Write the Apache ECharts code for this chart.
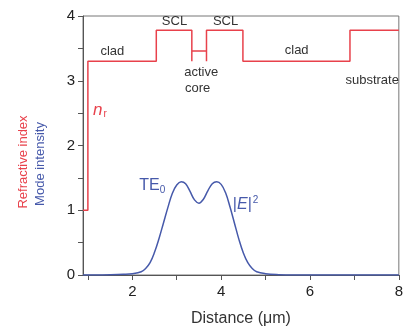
<!DOCTYPE html>
<html><head><meta charset="utf-8">
<script src="https://cdn.jsdelivr.net/npm/echarts@6/dist/echarts.min.js"></script>
<style>html,body{margin:0;padding:0;background:#fff}#c{width:406px;height:335px}</style>
</head><body><div id="c"></div>
<script>
// Refractive index profile (step profile), [distance, n]
const indexX = [0.89, 1.0, 1.0, 2.54, 2.54, 3.34, 3.34, 3.34, 3.67, 3.67, 3.67, 4.49, 4.49, 6.9, 6.9, 8.0];
const indexY = [1.0, 1.0, 3.3, 3.3, 3.78, 3.78, 3.3, 3.46, 3.46, 3.3, 3.78, 3.78, 3.3, 3.3, 3.78, 3.78];
// Mode intensity |E|^2
const modeX = [0.89, 1.2, 1.5, 1.8, 2.0, 2.2, 2.3, 2.4, 2.5, 2.6, 2.7, 2.8, 2.9, 3.0, 3.1, 3.2, 3.3, 3.4, 3.5, 3.6, 3.7, 3.8, 3.9, 4.0, 4.1, 4.2, 4.3, 4.4, 4.5, 4.6, 4.7, 4.8, 5.0, 5.3, 5.6, 6.0, 7.0, 8.0];
const modeY = [0.0, 0.0, 0.003, 0.01, 0.02, 0.05, 0.1, 0.19, 0.35, 0.56, 0.8, 1.04, 1.26, 1.39, 1.44, 1.41, 1.29, 1.16, 1.11, 1.17, 1.3, 1.41, 1.44, 1.4, 1.27, 1.05, 0.8, 0.55, 0.34, 0.19, 0.1, 0.05, 0.02, 0.005, 0.0, 0.0, 0.0, 0.0];
const xTicks = [1, 2, 3, 4, 5, 6, 7, 8];
const xLabels = [2, 4, 6, 8];
// Annotation texts anchored in data coordinates
const notes = [
  {text: 'clad', x: 1.55, y: 3.45},
  {text: 'SCL', x: 2.95, y: 3.92},
  {text: 'SCL', x: 4.1, y: 3.92},
  {text: 'active', x: 3.55, y: 3.13},
  {text: 'core', x: 3.47, y: 2.88},
  {text: 'clad', x: 5.7, y: 3.47},
  {text: 'substrate', x: 7.4, y: 3.01}
];

const RED = '#e8414b', BLUE = '#4659aa', AX = '#555';
const chart = echarts.init(document.getElementById('c'));
const FONT = 'Liberation Sans, Arial, sans-serif';
chart.setOption({
  animation: false,
  grid: {left: 83, right: 3, top: 16, bottom: 60, show: true, borderColor: '#777', borderWidth: 1},
  xAxis: {
    type: 'value', min: 0.89, max: 8,
    name: 'Distance (\u03bcm)', nameLocation: 'middle', nameGap: 36,
    nameTextStyle: {fontSize: 16, color: '#333', fontFamily: FONT},
    axisLine: {lineStyle: {color: AX, width: 1}},
    axisTick: {show: true, lineStyle: {color: AX}, length: 5, customValues: xTicks},
    minorTick: {show: false},
    axisLabel: {fontSize: 15, color: '#222', fontFamily: FONT, margin: 9, customValues: xLabels},
    splitLine: {show: false}
  },
  yAxis: {
    type: 'value', min: 0, max: 4, interval: 1,
    axisLine: {show: true, lineStyle: {color: AX, width: 1}},
    axisTick: {show: true, lineStyle: {color: AX}, length: 5},
    minorTick: {show: true, splitNumber: 2, length: 5, lineStyle: {color: AX}},
    axisLabel: {fontSize: 15, color: '#222', fontFamily: FONT, margin: 8},
    splitLine: {show: false}
  },
  series: [
    {type: 'line', data: indexX.map((x, i) => [x, indexY[i]]), showSymbol: false, symbol: 'none',
     lineStyle: {color: RED, width: 1.5}, z: 3},
    {type: 'line', data: modeX.map((x, i) => [x, modeY[i]]), smooth: 0.4, showSymbol: false, symbol: 'none',
     lineStyle: {color: BLUE, width: 1.5}, z: 4}
  ]
});

function px(x, y) { return chart.convertToPixel({gridIndex: 0}, [x, y]); }
const g = notes.map(n => {
  const p = px(n.x, n.y);
  return {type: 'text', x: p[0], y: p[1], style: {text: n.text, fill: '#333', font: '13px ' + FONT, align: 'center', verticalAlign: 'middle'}};
});
const pn = px(1.27, 2.55);
g.push({type: 'text', x: pn[0], y: pn[1], style: {text: '{n|n}{s|r}', rich: {
  n: {fontSize: 17, fontStyle: 'italic', fill: RED, fontFamily: FONT, verticalAlign: 'bottom'},
  s: {fontSize: 10, fill: RED, fontFamily: FONT, padding: [8, 0, 0, 1]}}, align: 'center', verticalAlign: 'middle'}});
const pt = px(2.45, 1.38);
g.push({type: 'text', x: pt[0], y: pt[1], style: {text: '{n|TE}{s|0}', rich: {
  n: {fontSize: 16, fill: BLUE, fontFamily: FONT},
  s: {fontSize: 10, fill: BLUE, fontFamily: FONT, padding: [10, 0, 0, 0]}}, align: 'center', verticalAlign: 'middle'}});
const pe = px(4.55, 1.09);
g.push({type: 'text', x: pe[0], y: pe[1], style: {text: '{n||}{i|E}{n||}{s|2}', rich: {
  n: {fontSize: 16, fill: BLUE, fontFamily: FONT},
  i: {fontSize: 16, fill: BLUE, fontFamily: FONT, fontStyle: 'italic'},
  s: {fontSize: 10, fill: BLUE, fontFamily: FONT, padding: [0, 0, 9, 1]}}, align: 'center', verticalAlign: 'middle'}});
g.push({type: 'text', x: 23, y: 162, rotation: Math.PI / 2, style: {text: 'Refractive index', fill: RED, font: '13px ' + FONT, align: 'center', verticalAlign: 'middle'}});
g.push({type: 'text', x: 40, y: 164, rotation: Math.PI / 2, style: {text: 'Mode intensity', fill: BLUE, font: '13px ' + FONT, align: 'center', verticalAlign: 'middle'}});
chart.setOption({graphic: g});
</script></body></html>
